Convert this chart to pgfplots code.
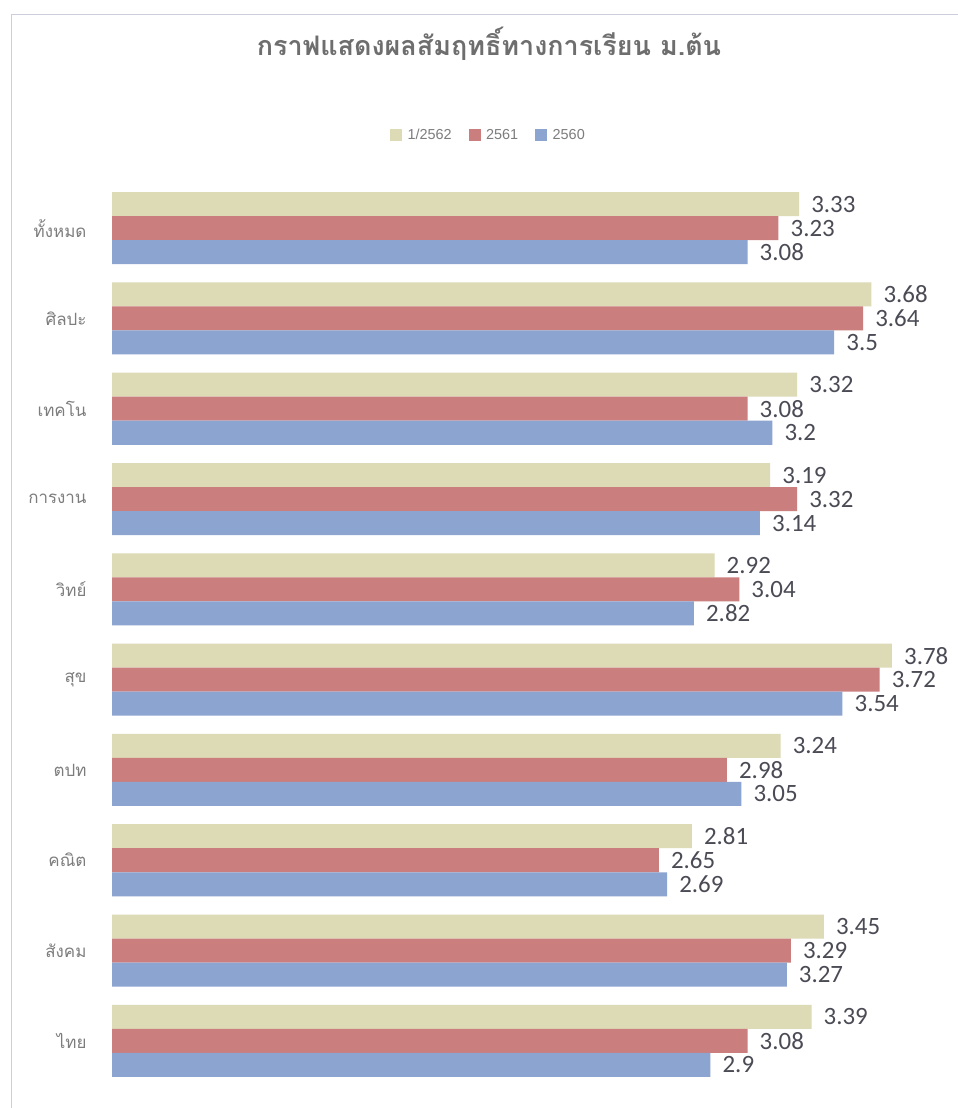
\documentclass[border=0pt]{standalone}
\usepackage{fontspec}
\usepackage{pgfplots}
\usepackage{pgfplotstable}
\pgfplotsset{compat=1.18}
\setmainfont{Liberation Sans}
\newfontfamily\thaifont[Script=Thai]{Loma}
\newfontfamily\numfont{Carlito}
\definecolor{cY}{RGB}{221,218,182}
\definecolor{cR}{RGB}{203,126,126}
\definecolor{cB}{RGB}{139,164,208}
\definecolor{framec}{RGB}{205,205,220}
\definecolor{titlec}{RGB}{110,110,110}
\definecolor{labc}{RGB}{125,125,125}
\definecolor{numc}{RGB}{75,75,85}

\pgfplotstableread{
y a b c
9 3.33 3.23 3.08
8 3.68 3.64 3.5
7 3.32 3.08 3.2
6 3.19 3.32 3.14
5 2.92 3.04 2.82
4 3.78 3.72 3.54
3 3.24 2.98 3.05
2 2.81 2.65 2.69
1 3.45 3.29 3.27
0 3.39 3.08 2.9
}\data

\begin{document}
\begin{tikzpicture}[x=1bp,y=1bp]
\useasboundingbox (0,0) rectangle (958,1108);
\fill[white] (0,0) rectangle (958,1108);
\draw[framec, line width=0.8bp] (11,-2) -- (11,1094) -- (960,1094);
\node[font=\thaifont\bfseries\fontsize{27}{31}\selectfont, text=titlec] at (489,1064) {กราฟแสดงผลสัมฤทธิ์ทางการเรียน ม.ต้น};
\begin{axis}[
  at={(112bp,22bp)}, anchor=south west,
  scale only axis, width=846bp, height=903bp,
  xmin=0, xmax=4.1, ymin=-0.5, ymax=9.5,
  xbar, bar width=0.266,
  axis line style={draw=none},
  xtick=\empty,
  ytick={0,...,9},
  yticklabels={ไทย,สังคม,คณิต,ตปท,สุข,วิทย์,การงาน,เทคโน,ศิลปะ,ทั้งหมด},
  major tick length=0pt,
  yticklabel style={font=\thaifont\fontsize{17}{19}\selectfont, text=labc, xshift=-22bp},
  nodes near coords,
  nodes near coords style={font=\numfont\fontsize{25}{28}\selectfont, text=numc, anchor=west, xshift=10bp, inner sep=2bp},
  /pgf/number format/assume math mode=true,
  legend columns=3,
  legend style={draw=none, fill=none, at={(0.445,1.0532)}, anchor=center,
    font=\fontsize{14.5}{16}\selectfont, text=labc,
    /tikz/every odd column/.append style={column sep=4bp},
    /tikz/every even column/.append style={column sep=15bp}},
]
\addlegendimage{legend image code/.code={\fill[cY] (0bp,-5.5bp) rectangle (11bp,5.5bp);}}
\addlegendimage{legend image code/.code={\fill[cR] (0bp,-5.5bp) rectangle (11bp,5.5bp);}}
\addlegendimage{legend image code/.code={\fill[cB] (0bp,-5.5bp) rectangle (11bp,5.5bp);}}
\addplot[fill=cY, draw=none, bar shift=0.266, forget plot] table[x=a,y=y]{\data};
\addplot[fill=cR, draw=none, bar shift=0, forget plot] table[x=b,y=y]{\data};
\addplot[fill=cB, draw=none, bar shift=-0.266, forget plot] table[x=c,y=y]{\data};
\legend{1/2562, 2561, 2560}
\end{axis}
\end{tikzpicture}
\end{document}
